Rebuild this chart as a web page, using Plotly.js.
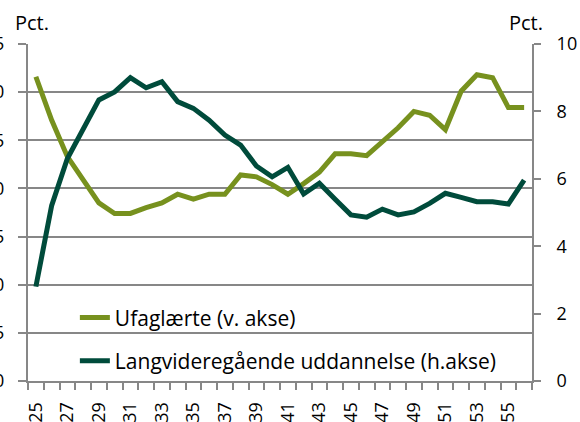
<!DOCTYPE html>
<html>
<head>
<meta charset="utf-8">
<script src="https://cdn.plot.ly/plotly-3.0.1.min.js"></script>
<style>html,body{margin:0;padding:0;background:#fff;}#chart{width:580px;height:422px;}</style>
</head>
<body>
<div id="chart"></div>
<script>
const ages = [25,26,27,28,29,30,31,32,33,34,35,36,37,38,39,40,41,42,43,44,45,46,47,48,49,50,51,52,53,54,55,56];
const ufaglaerte = [31.6,27.1,23.3,20.9,18.5,17.4,17.4,18.0,18.5,19.4,18.9,19.4,19.4,21.4,21.2,20.4,19.4,20.5,21.7,23.6,23.6,23.4,24.8,26.3,28.0,27.6,26.1,30.1,31.8,31.5,28.4,28.4];
const langvid = [2.8,5.2,6.6,7.5,8.34,8.58,9.0,8.7,8.88,8.29,8.09,7.74,7.3,7.0,6.38,6.06,6.34,5.55,5.87,5.39,4.93,4.86,5.1,4.93,5.02,5.27,5.57,5.45,5.32,5.32,5.25,5.96];
const xTickVals = [25,27,29,31,33,35,37,39,41,43,45,47,49,51,53,55];
const xTickText = xTickVals.map(String);
const names = ["Ufaglærte (v. akse)", "Langvideregående uddannelse (h.akse)"];
const unitLabel = "Pct.";

const FONT = "'Open Sans', Lato, sans-serif";
const GRID = "#878787";

const traces = [
  {x: ages, y: ufaglaerte, name: names[0], type: "scatter", mode: "lines", yaxis: "y",
   line: {color: "#77911E", width: 5}, legendgroup: "a"},
  {x: ages, y: langvid, name: names[1], type: "scatter", mode: "lines", yaxis: "y2",
   line: {color: "#004B3B", width: 5}, legendgroup: "b"}
];

const layout = {
  width: 580, height: 422,
  margin: {l: 28, r: 48, t: 44, b: 41},
  paper_bgcolor: "#fff", plot_bgcolor: "#fff",
  font: {family: FONT, size: 18, color: "#000"},
  showlegend: true,
  legend: {x: 0.093, y: 0.248, xanchor: "left", yanchor: "top", bgcolor: "rgba(0,0,0,0)",
           font: {family: FONT, size: 21, color: "#000"}, tracegroupgap: 13},
  xaxis: {
    range: [24.5, 56.5], tickmode: "array", tickvals: xTickVals, ticktext: xTickText,
    tickangle: -90, showgrid: false, zeroline: false,
    showline: true, linecolor: GRID, linewidth: 2,
    ticks: "outside", ticklen: 0, tickcolor: "rgba(0,0,0,0)", ticklabelstandoff: 12,
    minor: {tickmode: "linear", tick0: 24.5, dtick: 1, ticks: "outside", ticklen: 7, tickcolor: GRID, tickwidth: 2, showgrid: false},
    tickfont: {family: FONT, size: 18}
  },
  yaxis: {
    range: [0, 35], dtick: 5, tick0: 0, showgrid: true, gridcolor: GRID, gridwidth: 2,
    zeroline: false, showline: true, linecolor: GRID, linewidth: 2,
    ticks: "outside", ticklen: 8, tickcolor: GRID, tickwidth: 2, ticklabelstandoff: 10,
    tickfont: {family: FONT, size: 18}, automargin: false
  },
  yaxis2: {
    range: [0, 10], dtick: 2, tick0: 0, overlaying: "y", side: "right",
    showgrid: false, zeroline: false, showline: true, linecolor: GRID, linewidth: 2,
    ticks: "outside", ticklen: 7, tickcolor: GRID, tickwidth: 2, ticklabelstandoff: 12,
    tickfont: {family: FONT, size: 18}, automargin: false
  },
  annotations: [
    {text: unitLabel, xref: "paper", yref: "paper", x: -0.03, y: 1.0, yshift: 22, xanchor: "left", yanchor: "middle", showarrow: false, font: {family: FONT, size: 20}},
    {text: unitLabel, xref: "paper", yref: "paper", x: 1.025, y: 1.0, yshift: 22, xanchor: "right", yanchor: "middle", showarrow: false, font: {family: FONT, size: 20}}
  ]
};

Plotly.newPlot("chart", traces, layout, {displayModeBar: false, staticPlot: true});
</script>
</body>
</html>
